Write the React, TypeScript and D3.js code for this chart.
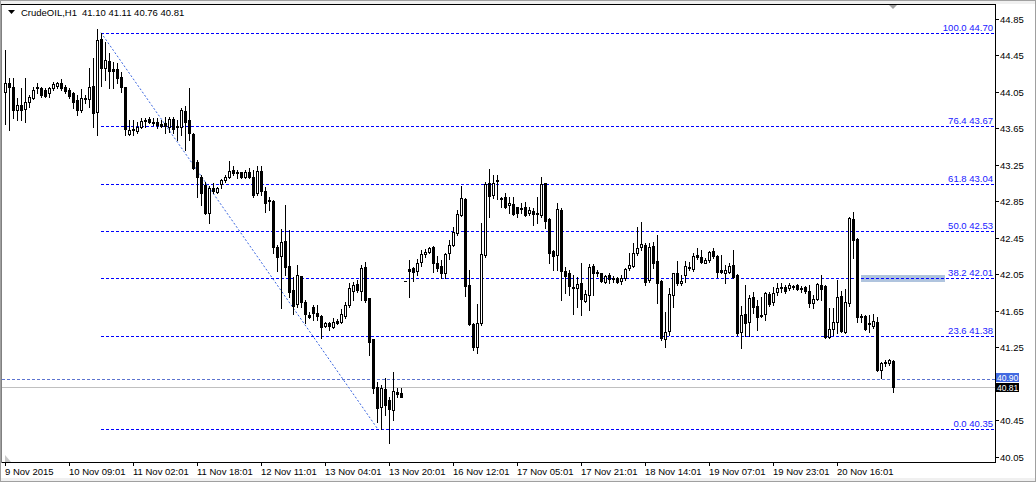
import { useEffect, useRef } from 'react'
import * as d3 from 'd3'

const W = 1036, H = 482
const FONT = "'Liberation Sans', Arial, sans-serif"

const symbol = 'CrudeOIL,H1'

// hourly OHLC, 9 Nov – 20 Nov 2015
const opens = [
  44.05, 44.15, 44.10, 43.85, 43.91, 43.86, 43.94, 43.98, 44.09, 44.09,
  44.07, 44.04, 44.09, 44.11, 44.15, 44.10, 44.07, 44.04, 43.96, 43.85,
  43.97, 43.97, 44.11, 43.83, 44.63, 44.31, 44.39, 44.30, 44.30, 44.21,
  44.10, 43.59, 43.63, 43.62, 43.67, 43.73, 43.75, 43.72, 43.72, 43.70,
  43.71, 43.67, 43.75, 43.67, 43.67, 43.84, 43.74, 43.59, 43.28, 43.12,
  43.03, 42.72, 43.00, 42.95, 43.04, 43.08, 43.12, 43.19, 43.17, 43.17,
  43.12, 43.17, 43.12, 42.94, 43.18, 42.96, 42.86, 42.85, 42.35, 42.25,
  42.42, 42.14, 41.88, 41.72, 42.03, 41.75, 41.60, 41.69, 41.63, 41.59,
  41.48, 41.52, 41.47, 41.54, 41.53, 41.59, 41.71, 41.87, 41.94, 41.87,
  42.13, 41.79, 41.34, 40.81, 40.60, 40.79, 40.67, 40.56, 40.76, 40.75,
  41.98, 42.11, 42.12, 42.09, 42.19, 42.27, 42.29, 42.35, 42.18, 42.14,
  42.07, 42.28, 42.37, 42.50, 42.70, 42.88, 41.93, 41.51, 41.25, 41.52,
  42.26, 43.05, 42.92, 43.07, 42.89, 42.90, 42.81, 42.82, 42.79, 42.78,
  42.79, 42.72, 42.74, 42.72, 42.70, 43.05, 42.66, 42.31, 42.26, 42.76,
  42.09, 42.06, 41.91, 41.90, 41.96, 41.76, 41.82, 42.14, 42.08, 42.06,
  41.97, 42.04, 42.01, 42.01, 41.98, 42.01, 42.12, 42.14, 42.28, 42.35,
  42.37, 41.99, 42.36, 42.20, 41.98, 41.34, 41.43, 41.82, 42.07, 41.96,
  42.04, 42.13, 42.11, 42.26, 42.24, 42.18, 42.21, 42.31, 42.25, 42.10,
  42.07, 42.08, 42.15, 42.04, 41.42, 41.62, 41.53, 41.80, 41.70, 41.60,
  41.62, 41.83, 41.75, 41.86, 41.91, 41.91, 41.90, 41.92, 41.93, 41.90,
  41.91, 41.87, 41.74, 41.78, 41.93, 41.92, 41.36, 41.45, 41.53, 41.81,
  41.42, 41.74, 42.66, 42.44, 41.59, 41.59, 41.52, 41.48, 41.53, 41.00,
  41.09, 41.08, 41.10,
]
const highs = [
  44.51, 44.20, 44.20, 43.98, 44.09, 44.20, 44.02, 44.10, 44.15, 44.10,
  44.09, 44.10, 44.16, 44.16, 44.19, 44.13, 44.09, 44.05, 44.02, 44.08,
  44.02, 44.31, 44.42, 44.74, 44.70, 44.60, 44.48, 44.38, 44.37, 44.27,
  44.10, 43.74, 43.74, 43.72, 43.76, 43.76, 43.77, 43.76, 43.76, 43.74,
  43.77, 43.77, 43.77, 43.74, 43.87, 43.90, 44.09, 43.60, 43.30, 43.14,
  43.06, 43.02, 43.05, 43.01, 43.10, 43.14, 43.29, 43.24, 43.19, 43.17,
  43.19, 43.22, 43.19, 43.24, 43.24, 43.01, 42.90, 42.87, 42.37, 42.55,
  42.81, 42.54, 42.02, 42.15, 42.03, 41.77, 41.64, 41.71, 41.71, 41.60,
  41.53, 41.53, 41.57, 41.56, 41.67, 41.75, 41.96, 41.97, 41.99, 42.15,
  42.19, 41.79, 41.34, 40.87, 40.84, 40.91, 40.70, 40.98, 40.80, 40.80,
  41.98, 42.21, 42.13, 42.22, 42.32, 42.33, 42.35, 42.36, 42.25, 42.21,
  42.28, 42.43, 42.57, 42.76, 43.02, 42.89, 42.10, 41.52, 41.72, 42.61,
  43.06, 43.20, 43.14, 43.14, 42.90, 42.94, 42.90, 42.90, 42.79, 42.83,
  42.84, 42.79, 42.78, 42.90, 43.12, 43.05, 42.67, 42.32, 42.83, 42.78,
  42.13, 42.10, 42.04, 42.02, 42.18, 41.88, 42.16, 42.16, 42.10, 42.07,
  42.04, 42.06, 42.03, 42.02, 42.04, 42.12, 42.28, 42.39, 42.57, 42.62,
  42.39, 42.39, 42.40, 42.48, 41.99, 41.64, 41.90, 42.07, 42.20, 42.04,
  42.20, 42.19, 42.28, 42.34, 42.32, 42.23, 42.31, 42.34, 42.26, 42.26,
  42.15, 42.18, 42.32, 42.05, 41.70, 41.93, 41.82, 41.86, 41.77, 41.80,
  41.86, 41.86, 41.91, 41.96, 41.96, 41.93, 41.96, 41.93, 41.94, 41.92,
  41.92, 41.93, 41.82, 41.96, 42.04, 41.93, 41.68, 41.68, 41.99, 41.87,
  41.89, 42.68, 42.73, 42.45, 41.62, 41.60, 41.60, 41.62, 41.58, 41.09,
  41.11, 41.12, 41.11,
]
const lows = [
  43.70, 43.63, 43.76, 43.74, 43.74, 43.72, 43.89, 43.97, 44.04, 44.00,
  44.00, 44.00, 44.07, 44.09, 44.07, 44.04, 43.98, 43.87, 43.80, 43.83,
  43.93, 43.89, 43.67, 43.58, 44.11, 44.18, 44.09, 44.09, 44.15, 44.05,
  43.58, 43.58, 43.58, 43.60, 43.66, 43.67, 43.71, 43.69, 43.66, 43.67,
  43.60, 43.61, 43.60, 43.52, 43.58, 43.41, 43.52, 43.21, 42.90, 42.81,
  42.71, 42.61, 42.94, 42.94, 43.00, 43.06, 43.11, 43.14, 43.11, 43.11,
  43.11, 43.11, 42.90, 42.92, 42.92, 42.73, 42.76, 42.28, 42.09, 41.68,
  42.04, 41.80, 41.62, 41.69, 41.69, 41.52, 41.57, 41.55, 41.55, 41.35,
  41.47, 41.44, 41.46, 41.51, 41.52, 41.57, 41.69, 41.77, 41.86, 41.77,
  41.75, 41.17, 40.75, 40.43, 40.35, 40.51, 40.20, 40.45, 40.71, 40.70,
  41.98, 41.80, 41.98, 42.04, 42.14, 42.24, 42.28, 42.08, 42.09, 42.01,
  42.01, 42.22, 42.36, 42.48, 42.69, 41.81, 41.50, 41.22, 41.19, 41.50,
  42.24, 42.68, 42.89, 42.88, 42.79, 42.78, 42.72, 42.70, 42.68, 42.72,
  42.69, 42.70, 42.59, 42.61, 42.68, 42.56, 42.18, 42.10, 42.10, 41.77,
  41.85, 41.82, 41.62, 41.69, 41.60, 41.75, 41.66, 41.82, 42.03, 41.97,
  41.96, 41.96, 41.97, 41.96, 41.94, 41.99, 42.10, 42.13, 42.26, 42.32,
  41.93, 41.97, 42.12, 41.74, 41.33, 41.25, 41.39, 41.69, 41.93, 41.93,
  41.97, 42.10, 42.09, 42.22, 42.18, 42.17, 42.19, 42.23, 42.02, 42.07,
  41.96, 42.07, 42.01, 41.39, 41.24, 41.37, 41.37, 41.63, 41.44, 41.58,
  41.55, 41.70, 41.71, 41.82, 41.86, 41.85, 41.88, 41.89, 41.88, 41.86,
  41.85, 41.69, 41.68, 41.77, 41.77, 41.35, 41.35, 41.39, 41.41, 41.42,
  41.41, 41.70, 42.23, 41.53, 41.53, 41.44, 41.42, 41.46, 40.99, 40.91,
  41.05, 41.06, 40.76,
]
const closes = [
  44.15, 44.10, 43.85, 43.91, 43.85, 43.94, 44.00, 44.07, 44.10, 44.02,
  44.01, 44.09, 44.14, 44.15, 44.09, 44.06, 44.01, 43.94, 43.85, 43.98,
  43.98, 44.10, 43.82, 44.62, 44.31, 44.40, 44.28, 44.28, 44.20, 44.10,
  43.64, 43.63, 43.64, 43.67, 43.73, 43.74, 43.72, 43.71, 43.69, 43.68,
  43.68, 43.75, 43.64, 43.68, 43.85, 43.72, 43.60, 43.22, 43.12, 42.94,
  42.72, 43.00, 42.96, 43.00, 43.08, 43.12, 43.18, 43.16, 43.16, 43.12,
  43.17, 43.12, 42.92, 43.18, 42.96, 42.83, 42.85, 42.35, 42.24, 42.40,
  42.13, 41.86, 41.70, 42.04, 41.75, 41.62, 41.58, 41.63, 41.59, 41.47,
  41.52, 41.48, 41.53, 41.52, 41.62, 41.71, 41.90, 41.93, 41.88, 42.12,
  41.77, 41.31, 40.80, 40.58, 40.80, 40.62, 40.57, 40.77, 40.74, 40.71,
  41.98, 42.09, 42.08, 42.18, 42.27, 42.29, 42.34, 42.18, 42.12, 42.07,
  42.27, 42.37, 42.51, 42.71, 42.89, 41.92, 41.51, 41.25, 41.52, 42.27,
  43.04, 42.91, 43.05, 43.08, 42.88, 42.79, 42.83, 42.71, 42.72, 42.77,
  42.70, 42.76, 42.71, 42.71, 43.04, 42.63, 42.28, 42.25, 42.77, 42.09,
  42.03, 41.92, 41.90, 41.94, 41.78, 41.83, 42.13, 42.07, 42.07, 41.98,
  42.03, 42.00, 42.00, 41.97, 42.01, 42.11, 42.15, 42.28, 42.34, 42.38,
  41.97, 42.35, 42.18, 41.96, 41.35, 41.42, 41.83, 42.06, 41.96, 41.98,
  42.14, 42.12, 42.25, 42.24, 42.19, 42.21, 42.29, 42.25, 42.08, 42.08,
  42.10, 42.14, 42.02, 41.41, 41.60, 41.52, 41.79, 41.69, 41.58, 41.59,
  41.85, 41.72, 41.85, 41.90, 41.90, 41.87, 41.93, 41.91, 41.89, 41.89,
  41.87, 41.74, 41.78, 41.94, 41.89, 41.36, 41.45, 41.53, 41.80, 41.43,
  41.75, 42.67, 42.43, 41.58, 41.58, 41.45, 41.51, 41.54, 41.00, 41.08,
  41.08, 41.11, 40.81,
]

const timeLabels = [
  '9 Nov 2015', '10 Nov 09:01', '11 Nov 02:01', '11 Nov 18:01', '12 Nov 11:01',
  '13 Nov 04:01', '13 Nov 20:01', '16 Nov 12:01', '17 Nov 05:01', '17 Nov 21:01',
  '18 Nov 14:01', '19 Nov 07:01', '19 Nov 23:01', '20 Nov 16:01',
]
const barsPerLabel = 16
// 40.85 sits under the price tags, so it is left out
const priceTicks = [44.85, 44.45, 44.05, 43.65, 43.25, 42.85, 42.45, 42.05, 41.65, 41.25, 40.45, 40.05]

// Fibonacci retracement anchors
const fiboHigh = 44.70, fiboHighBar = 24
const fiboLow = 40.35, fiboLowBar = 94
const fiboRatios = [100.0, 76.4, 61.8, 50.0, 38.2, 23.6, 0.0]

// horizontal line object + bid
const markPrice = 40.90
const bidPrice = 40.81

// rectangle object
const zoneFromBar = 214, zoneToBar = 235
const zoneTop = 42.04, zoneBottom = 41.97

export default function App() {
  const svgRef = useRef<SVGSVGElement>(null)

  useEffect(() => {
    const svg = d3.select(svgRef.current!)
    svg.selectAll('*').remove()

    const right = 995, bottom = 462
    const x = d3.scaleLinear().domain([0, opens.length - 1]).range([5, 893])
    const y = d3.scaleLinear().domain([40.05, 44.85]).range([456.76, 19])
    const py = (p: number) => Math.round(y(p))

    svg.append('rect').attr('width', W).attr('height', H).attr('fill', '#fff')

    // window chrome
    svg.append('rect').attr('x', 1).attr('y', 1).attr('width', W - 2).attr('height', 3).attr('fill', '#f0f0f0')
    svg.append('rect').attr('x', 1).attr('y', 478).attr('width', W - 2).attr('height', 3).attr('fill', '#f0f0f0')
    svg.append('rect').attr('x', 0.5).attr('y', 0.5).attr('width', W - 1).attr('height', H - 1)
      .attr('fill', 'none').attr('stroke', '#a0a0a0')

    const frame = svg.append('g').attr('shape-rendering', 'crispEdges')
    frame.append('line').attr('x1', 1).attr('x2', right + 0.5).attr('y1', 4.5).attr('y2', 4.5).attr('stroke', '#000')
    frame.append('line').attr('x1', right + 0.5).attr('x2', right + 0.5).attr('y1', 4.5).attr('y2', bottom + 0.5).attr('stroke', '#000')
    frame.append('line').attr('x1', 1).attr('x2', right + 0.5).attr('y1', bottom + 0.5).attr('y2', bottom + 0.5).attr('stroke', '#000')
    frame.append('line').attr('x1', 1.5).attr('x2', 1.5).attr('y1', 4.5).attr('y2', bottom + 0.5).attr('stroke', '#808080')

    // rectangle object
    svg.append('rect')
      .attr('x', Math.round(x(zoneFromBar))).attr('y', py(zoneTop))
      .attr('width', Math.round(x(zoneToBar)) - Math.round(x(zoneFromBar)))
      .attr('height', py(zoneBottom) - py(zoneTop))
      .attr('fill', '#b0c4de')

    // bid line and marked line
    const lines = svg.append('g').attr('shape-rendering', 'crispEdges')
    lines.append('line').attr('x1', 2).attr('x2', right).attr('y1', py(bidPrice) + 0.5).attr('y2', py(bidPrice) + 0.5)
      .attr('stroke', '#c0c0c0')
    lines.append('line').attr('x1', 2).attr('x2', right).attr('y1', py(markPrice) + 0.5).attr('y2', py(markPrice) + 0.5)
      .attr('stroke', '#5b73d0').attr('stroke-dasharray', '3 2')

    // Fibonacci levels
    const fx0 = Math.round(x(fiboHighBar))
    fiboRatios.forEach(r => {
      const p = fiboLow + (r / 100) * (fiboHigh - fiboLow)
      const ly = py(p) + 0.5
      lines.append('line').attr('x1', fx0).attr('x2', right).attr('y1', ly).attr('y2', ly)
        .attr('stroke', '#0000ff').attr('stroke-dasharray', '3 2')
      svg.append('text').attr('x', right - 2).attr('y', ly - 3).attr('text-anchor', 'end')
        .attr('font-family', FONT).attr('font-size', 9.5).attr('fill', '#2020ff')
        .text(`${r.toFixed(1)} ${(p + 1e-9).toFixed(2)}`)
    })

    // Fibonacci trendline
    svg.append('line')
      .attr('x1', x(fiboHighBar)).attr('y1', y(fiboHigh))
      .attr('x2', x(fiboLowBar) - 3).attr('y2', y(fiboLow))
      .attr('stroke', '#3a66e0').attr('stroke-width', 1).attr('stroke-dasharray', '2 2')

    // candles
    const g = svg.append('g').attr('shape-rendering', 'crispEdges')
    opens.forEach((o, i) => {
      const c = closes[i]
      const cx = Math.round(x(i))
      const yh = py(highs[i]), yl = py(lows[i])
      const yTop = py(Math.max(o, c)), yBot = py(Math.min(o, c))
      g.append('rect').attr('x', cx).attr('y', yh).attr('width', 1).attr('height', yl - yh + 1).attr('fill', '#000')
      g.append('rect').attr('x', cx - 1).attr('y', yTop).attr('width', 3).attr('height', yBot - yTop + 1).attr('fill', '#000')
      if (c > o && yBot - yTop >= 2) {
        g.append('rect').attr('x', cx).attr('y', yTop + 1).attr('width', 1).attr('height', yBot - yTop - 1).attr('fill', '#fff')
      }
    })

    // price axis
    const axis = svg.append('g').attr('font-family', FONT).attr('font-size', 9.5).attr('fill', '#000')
    priceTicks.forEach(p => {
      const ty = py(p) + 0.5
      axis.append('line').attr('x1', right).attr('x2', right + 4).attr('y1', ty).attr('y2', ty)
        .attr('stroke', '#000').attr('shape-rendering', 'crispEdges')
      axis.append('text').attr('x', right + 5).attr('y', ty).attr('dy', '0.35em').text(p.toFixed(2))
    })

    // time axis
    timeLabels.forEach((label, k) => {
      const tx = Math.round(x(k * barsPerLabel)) + 0.5
      axis.append('line').attr('x1', tx).attr('x2', tx).attr('y1', bottom).attr('y2', bottom + 4)
        .attr('stroke', '#000').attr('shape-rendering', 'crispEdges')
      axis.append('text').attr('x', tx - 0.5).attr('y', 475).text(label)
    })

    // price tags on the axis
    const tags = [
      { p: markPrice, fill: '#4169e1', top: -6 },
      { p: bidPrice, fill: '#000', top: -4 },
    ]
    tags.forEach(t => {
      const ty = py(t.p) + t.top
      svg.append('rect').attr('x', right + 1).attr('y', ty).attr('width', 23).attr('height', 9)
        .attr('fill', t.fill)
      svg.append('text').attr('x', right + 2).attr('y', ty + 7.5)
        .attr('font-family', FONT).attr('font-size', 8.5).attr('fill', '#fff').text(t.p.toFixed(2))
    })

    // markers
    const lastX = x(opens.length - 1)
    svg.append('path').attr('d', d3.line()([[lastX - 4, 5], [lastX + 4, 5], [lastX, 9]]))
      .attr('fill', '#a0a0a0')
    svg.append('path').attr('d', d3.line()([[5, 455], [5, 462], [11, 462]])).attr('fill', '#c8c8c8')

    // header
    svg.append('path').attr('d', d3.line()([[8, 10], [15, 10], [11.5, 14]])).attr('fill', '#000')
    const last = opens.length - 1
    svg.append('text').attr('x', 21).attr('y', 16).attr('font-family', FONT).attr('font-size', 9.5)
      .attr('fill', '#000').text(symbol)
    svg.append('text').attr('x', 82).attr('y', 16).attr('font-family', FONT).attr('font-size', 9.5)
      .attr('fill', '#000')
      .text([opens[last], highs[last], lows[last], closes[last]].map(v => v.toFixed(2)).join(' '))
  }, [])

  return <svg ref={svgRef} width={W} height={H} style={{ position: 'absolute', left: 0, top: 0 }} />
}
